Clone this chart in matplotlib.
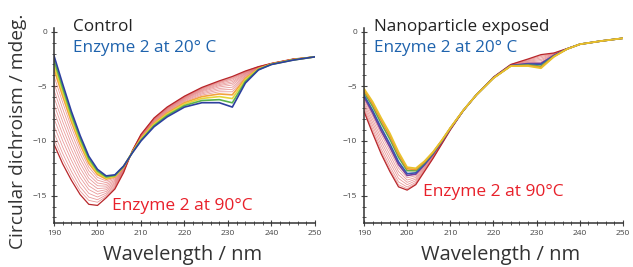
import matplotlib.pyplot as plt
from matplotlib.ticker import MultipleLocator

plt.rcParams['font.family'] = ['Open Sans', 'DejaVu Sans']

# wavelength grid (nm) shared by both panels
wavelength = [190, 192, 194, 196, 198, 200, 202, 204, 206, 208, 210, 213,
              216, 220, 224, 228, 231, 234, 237, 240, 245, 250]

# Control: spectra from 20 °C (first row) to 90 °C (last row), mdeg
control_spectra = [
    [-2.2, -4.8, -7.3, -9.5, -11.4, -12.6, -13.2, -13.1, -12.3, -11.1, -10.0, -8.7, -7.8, -6.9, -6.5, -6.5, -6.9, -4.7, -3.5, -3.0, -2.6, -2.3],
    [-2.61, -5.17, -7.62, -9.77, -11.62, -12.76, -13.30, -13.17, -12.33, -11.07, -9.92, -8.59, -7.67, -6.76, -6.30, -6.22, -6.51, -4.55, -3.46, -2.99, -2.59, -2.3],
    [-3.01, -5.53, -7.93, -10.04, -11.83, -12.92, -13.40, -13.23, -12.36, -11.04, -9.83, -8.48, -7.55, -6.62, -6.11, -5.94, -6.12, -4.39, -3.42, -2.97, -2.57, -2.3],
    [-3.42, -5.90, -8.25, -10.31, -12.05, -13.08, -13.50, -13.30, -12.39, -11.02, -9.76, -8.38, -7.44, -6.50, -5.94, -5.70, -5.78, -4.26, -3.38, -2.96, -2.56, -2.3],
    [-4.06, -6.48, -8.75, -10.74, -12.39, -13.34, -13.66, -13.40, -12.44, -11.00, -9.70, -8.30, -7.35, -6.40, -5.80, -5.50, -5.50, -4.15, -3.35, -2.95, -2.55, -2.3],
    [-4.71, -7.06, -9.25, -11.17, -12.73, -13.59, -13.82, -13.50, -12.49, -10.98, -9.65, -8.24, -7.28, -6.32, -5.69, -5.34, -5.28, -4.06, -3.33, -2.94, -2.54, -2.3],
    [-5.36, -7.65, -9.76, -11.61, -13.08, -13.85, -13.98, -13.61, -12.53, -10.97, -9.61, -8.18, -7.22, -6.25, -5.59, -5.20, -5.08, -3.99, -3.31, -2.94, -2.54, -2.3],
    [-6.01, -8.23, -10.26, -12.04, -13.42, -14.10, -14.14, -13.71, -12.58, -10.96, -9.57, -8.12, -7.15, -6.18, -5.49, -5.06, -4.88, -3.91, -3.28, -2.93, -2.53, -2.3],
    [-6.66, -8.82, -10.77, -12.47, -13.77, -14.36, -14.30, -13.82, -12.63, -10.94, -9.53, -8.08, -7.10, -6.12, -5.41, -4.94, -4.72, -3.84, -3.27, -2.92, -2.52, -2.3],
    [-7.30, -9.40, -11.27, -12.90, -14.11, -14.62, -14.46, -13.92, -12.68, -10.93, -9.50, -8.04, -7.05, -6.07, -5.34, -4.84, -4.58, -3.79, -3.25, -2.92, -2.52, -2.3],
    [-7.95, -9.98, -11.77, -13.33, -14.45, -14.87, -14.62, -14.02, -12.73, -10.92, -9.47, -8.00, -7.01, -6.02, -5.27, -4.74, -4.44, -3.73, -3.24, -2.91, -2.51, -2.3],
    [-8.60, -10.57, -12.28, -13.77, -14.80, -15.13, -14.78, -14.13, -12.77, -10.92, -9.45, -7.96, -6.97, -5.98, -5.21, -4.66, -4.32, -3.69, -3.22, -2.91, -2.51, -2.3],
    [-9.25, -11.15, -12.78, -14.20, -15.14, -15.38, -14.94, -14.23, -12.82, -10.91, -9.43, -7.94, -6.95, -5.95, -5.17, -4.60, -4.24, -3.66, -3.22, -2.91, -2.51, -2.3],
    [-9.81, -11.66, -13.22, -14.58, -15.44, -15.61, -15.08, -14.32, -12.86, -10.90, -9.41, -7.92, -6.92, -5.92, -5.13, -4.54, -4.16, -3.62, -3.21, -2.90, -2.50, -2.3],
    [-10.3, -12.1, -13.6, -14.9, -15.8, -15.9, -15.2, -14.4, -12.9, -10.9, -9.4, -7.9, -6.9, -5.9, -5.1, -4.5, -4.1, -3.6, -3.2, -2.9, -2.5, -2.3],
]

# Nanoparticle exposed: spectra from 20 °C (first row) to 90 °C (last row), mdeg
exposed_spectra = [
    [-5.2, -6.4, -7.9, -9.3, -11.0, -12.4, -12.5, -11.85, -11.0, -9.95, -8.8, -7.2, -5.8, -4.25, -3.15, -3.15, -3.35, -2.3, -1.6, -1.15, -0.85, -0.6],
    [-5.35, -6.60, -8.13, -9.55, -11.22, -12.55, -12.61, -11.92, -11.04, -9.97, -8.81, -7.20, -5.80, -4.24, -3.14, -3.10, -3.26, -2.28, -1.60, -1.15, -0.85, -0.6],
    [-5.52, -6.84, -8.40, -9.83, -11.48, -12.72, -12.73, -11.99, -11.09, -10.00, -8.83, -7.21, -5.80, -4.24, -3.13, -3.05, -3.16, -2.25, -1.59, -1.15, -0.85, -0.6],
    [-5.79, -7.21, -8.82, -10.28, -11.90, -12.99, -12.92, -12.12, -11.17, -10.05, -8.86, -7.21, -5.80, -4.22, -3.11, -2.97, -3.00, -2.20, -1.59, -1.15, -0.85, -0.6],
    [-5.96, -7.44, -9.09, -10.56, -12.15, -13.16, -13.04, -12.19, -11.22, -10.08, -8.87, -7.22, -5.80, -4.21, -3.10, -2.92, -2.90, -2.17, -1.58, -1.15, -0.85, -0.6],
    [-6.17, -7.73, -9.42, -10.91, -12.47, -13.37, -13.19, -12.29, -11.28, -10.11, -8.89, -7.22, -5.80, -4.20, -3.08, -2.85, -2.78, -2.14, -1.58, -1.15, -0.85, -0.6],
    [-6.38, -8.02, -9.75, -11.26, -12.79, -13.58, -13.34, -12.38, -11.34, -10.15, -8.91, -7.23, -5.80, -4.19, -3.07, -2.79, -2.65, -2.10, -1.57, -1.15, -0.85, -0.6],
    [-6.59, -8.31, -10.08, -11.61, -13.11, -13.79, -13.49, -12.48, -11.40, -10.18, -8.93, -7.23, -5.80, -4.18, -3.05, -2.72, -2.53, -2.07, -1.57, -1.15, -0.85, -0.6],
    [-6.80, -8.60, -10.41, -11.96, -13.43, -14.00, -13.64, -12.57, -11.46, -10.22, -8.95, -7.24, -5.80, -4.17, -3.04, -2.66, -2.40, -2.03, -1.56, -1.15, -0.85, -0.6],
    [-7.01, -8.89, -10.74, -12.31, -13.75, -14.21, -13.79, -12.67, -11.52, -10.25, -8.97, -7.24, -5.80, -4.16, -3.02, -2.59, -2.28, -2.00, -1.56, -1.15, -0.85, -0.6],
    [-7.17, -9.13, -11.00, -12.59, -14.01, -14.37, -13.91, -12.74, -11.56, -10.28, -8.99, -7.25, -5.80, -4.16, -3.01, -2.54, -2.18, -1.97, -1.55, -1.15, -0.85, -0.6],
    [-7.3, -9.3, -11.2, -12.8, -14.2, -14.5, -14.0, -12.8, -11.6, -10.3, -9.0, -7.25, -5.8, -4.15, -3.0, -2.5, -2.1, -1.95, -1.55, -1.15, -0.85, -0.6],
]

panel_titles = ["Control", "Nanoparticle exposed"]
low_temp_label = "Enzyme 2 at 20° C"
high_temp_label = "Enzyme 2 at 90°C"
x_ticks = [190, 200, 210, 220, 230, 240, 250]
y_ticks = [0, -5, -10, -15]

# colours of the first few (low temperature) spectra, then pink/red for the rest
control_rainbow = ['#2d3f9e', '#5bb34a', '#e6d53a', '#f2a23e']
exposed_rainbow = ['#e8c22c', '#f0962e', '#63ab4a', '#3556b0', '#7a3b98']

fig = plt.figure(figsize=(6.33, 2.67), dpi=100)
ax_left = fig.add_axes([0.0853, 0.1652, 0.4123, 0.7284])
ax_right = fig.add_axes([0.5750, 0.1652, 0.4092, 0.7284])


def draw_panel(ax, spectra, rainbow, title, title_x, hi_x, hi_y):
    n_rb = len(rainbow)
    # thin pink lines for the intermediate temperatures
    for s in spectra[n_rb:-1]:
        ax.plot(wavelength, s, color='#e07070', lw=0.6, alpha=0.7)
    ax.plot(wavelength, spectra[-1], color='#b8262a', lw=0.9)
    for i in reversed(range(n_rb)):
        ax.plot(wavelength, spectra[i], color=rainbow[i], lw=1.2)

    ax.set_xlim(190, 250)
    ax.set_ylim(-17.5, 0.3)
    ax.set_xticks(x_ticks)
    ax.set_yticks(y_ticks)
    ax.xaxis.set_minor_locator(MultipleLocator(2))
    ax.yaxis.set_minor_locator(MultipleLocator(1))
    for side in ['top', 'right']:
        ax.spines[side].set_visible(False)
    for side in ['left', 'bottom']:
        ax.spines[side].set_color('#333333')
        ax.spines[side].set_linewidth(1.1)
    ax.tick_params(which='major', direction='inout', length=4, width=0.8,
                   colors='#444444', labelsize=6, pad=3)
    ax.tick_params(which='minor', direction='inout', length=2.5, width=0.6,
                   colors='#444444')

    ax.text(title_x, 0.45, title, fontsize=12.3, color='#222222', va='center')
    ax.text(title_x, -1.5, low_temp_label, fontsize=12.3, color='#1f63ad',
            va='center', bbox=dict(fc='white', ec='none', pad=1))
    ax.text(hi_x, hi_y, high_temp_label, fontsize=12.5, color='#e8202a',
            va='center', bbox=dict(fc='white', ec='none', pad=1))


draw_panel(ax_left, control_spectra, control_rainbow, panel_titles[0],
           194.3, 203.3, -15.95)
draw_panel(ax_right, exposed_spectra, exposed_rainbow, panel_titles[1],
           192.3, 203.7, -14.67)

fig.text(0.028, 0.507, "Circular dichroism / mdeg.", rotation=90,
         fontsize=13.8, color='#333333', ha='center', va='center')
fig.text(0.289, 0.045, "Wavelength / nm", fontsize=14.5, color='#333333',
         ha='center', va='center')
fig.text(0.790, 0.045, "Wavelength / nm", fontsize=14.5, color='#333333',
         ha='center', va='center')

fig.savefig("out.png", dpi=100)
